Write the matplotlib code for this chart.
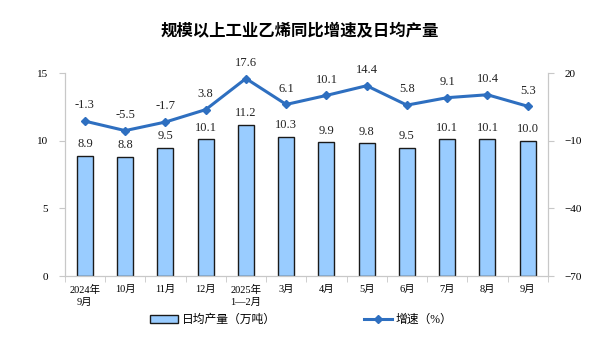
import matplotlib.pyplot as plt
import numpy as np

plt.rcParams["font.family"] = ["Liberation Serif", "Noto Sans CJK SC"]

months = ["2024年\n9月", "10月", "11月", "12月", "2025年\n1—2月", "3月", "4月",
          "5月", "6月", "7月", "8月", "9月"]
daily_output = [8.9, 8.8, 9.5, 10.1, 11.2, 10.3, 9.9, 9.8, 9.5, 10.1, 10.1, 10.0]
growth = [-1.3, -5.5, -1.7, 3.8, 17.6, 6.1, 10.1, 14.4, 5.8, 9.1, 10.4, 5.3]

BAR, EDGE, LINE, AXC = "#99CCFF", "#1a1a1a", "#2E6FC0", "#c8c8c8"

fig = plt.figure(figsize=(6, 3.4), dpi=100)
ax = fig.add_axes([0.108, 0.188, 0.805, 0.597])
x = np.arange(len(months))
ax.bar(x, daily_output, width=0.4, color=BAR, edgecolor=EDGE, lw=1.0,
       label="日均产量（万吨）", zorder=2)
for xi, v in zip(x, daily_output):
    ax.annotate(f"{v:.1f}", (xi, v), xytext=(0, 4), textcoords="offset points",
                ha="center", va="bottom", fontsize=9, color="#222")
ax.set_xlim(-0.5, len(months) - 0.5)
ax.set_ylim(0, 15)
ax.set_yticks([0, 5, 10, 15])
ax.set_xticks(x)
ax.set_xticklabels(months, fontsize=7.5, linespacing=1.5)
ax.set_xticks(np.arange(-0.5, len(months)), minor=True)
ax.tick_params(axis="x", which="major", length=0, pad=6)
ax.tick_params(axis="x", which="minor", length=4, color=AXC)
ax.tick_params(axis="y", length=4, color=AXC, labelsize=8, pad=8)

ax2 = ax.twinx()
ax2.plot(x, growth, color=LINE, lw=2.2, marker="D", ms=4.5, label="增速（%）", zorder=3)
for xi, v in zip(x, growth):
    ax2.annotate(f"{v:.1f}", (xi, v), xytext=(0, 7), textcoords="offset points",
                 ha="center", va="bottom", fontsize=9, color="#222")
ax2.set_ylim(-70, 20)
ax2.set_yticks([-70, -40, -10, 20])
ax2.tick_params(axis="y", length=4, color=AXC, labelsize=8, pad=8)

for a in (ax, ax2):
    a.spines["top"].set_visible(False)
    for s in ("left", "right", "bottom"):
        a.spines[s].set_color(AXC)

fig.text(0.5, 0.91, "规模以上工业乙烯同比增速及日均产量", ha="center", va="center",
         fontsize=11.8, fontweight="bold", family="Noto Sans CJK SC")

h1, l1 = ax.get_legend_handles_labels()
h2, l2 = ax2.get_legend_handles_labels()
fig.legend(h1 + h2, l1 + l2, loc="center", bbox_to_anchor=(0.502, 0.058), ncol=2,
           frameon=False, fontsize=8.5, columnspacing=7.5, handlelength=2.4,
           handletextpad=0.3)

fig.savefig("out.png", dpi=100)
